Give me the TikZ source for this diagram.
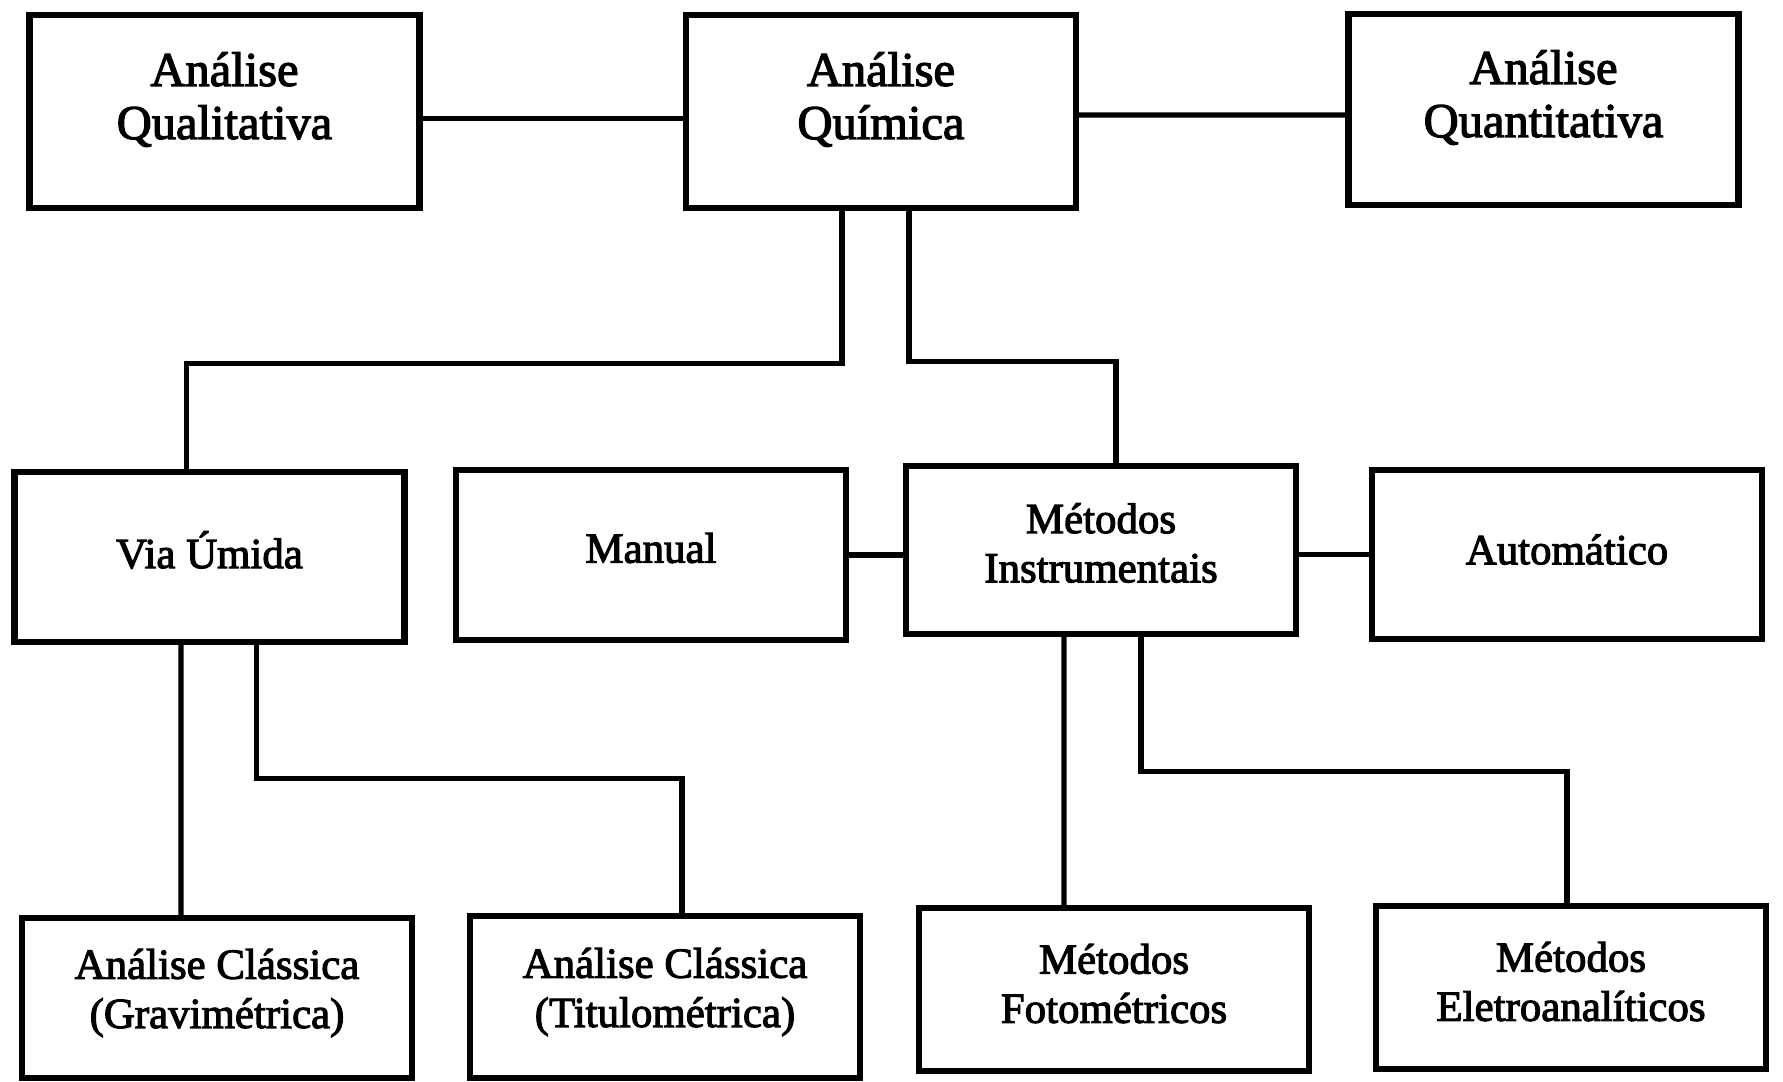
\documentclass[tikz,border=0pt]{standalone}
\usepackage{fontspec}
\setmainfont[FakeBold=2.5]{Liberation Serif}

\begin{document}
\begin{tikzpicture}[x=0.1mm, y=-0.1mm,
                caixa/.style={draw, line width=1.8pt, minimum width=39mm, inner sep=0pt},
                titulo/.style={align=center, font=\fontsize{13.8}{15.1}\selectfont},
                texto/.style={align=center, font=\fontsize{12.2}{14}\selectfont},
                liga/.style={line width=1.5pt}]
                \useasboundingbox (0,0) rectangle (1783,1081);
                \node[caixa, minimum height=19.3mm] (qual) at (224.5,111.5) {};
                \node[titulo] (qual-txt) at ([yshift=1.2mm]qual.center) {Análise\\Qualitativa};
                \node[caixa, minimum height=19.3mm] (quim) at (881,111.5) {};
                \node[titulo] (quim-txt) at ([yshift=1.2mm]quim.center) {Análise\\Química};
                \node[caixa, minimum height=19.1mm] (quant) at (1543.5,109.5) {};
                \node[titulo] (quant-txt) at ([yshift=1.2mm]quant.center) {Análise\\Quantitativa};
                \node[caixa, minimum height=17mm] (via) at (209.5,557) {};
                \node[texto] (via-txt) at ([yshift=0.7mm]via.center) {Via Úmida};
                \node[caixa, minimum height=17mm] (manual) at (651,555) {};
                \node[texto] (manual-txt) at ([yshift=0.7mm]manual.center) {Manual};
                \node[caixa, minimum height=16.8mm] (instr) at (1101,550) {};
                \node[texto] (instr-txt) at ([yshift=0.7mm]instr.center) {Métodos\\Instrumentais};
                \node[caixa, minimum height=16.9mm] (auto) at (1567,554.5) {};
                \node[texto] (auto-txt) at ([yshift=0.5mm]auto.center) {Automático};
                \node[caixa, minimum height=16mm] (grav) at (217,998) {};
                \node[texto] (grav-txt) at ([yshift=0.5mm]grav.center) {Análise Clássica\\(Gravimétrica)};
                \node[caixa, minimum height=16.2mm] (titu) at (665,997) {};
                \node[texto] (titu-txt) at ([yshift=0.5mm]titu.center) {Análise Clássica\\(Titulométrica)};
                \node[caixa, minimum height=16.3mm] (foto) at (1114,989.5) {};
                \node[texto] (foto-txt) at ([yshift=0.6mm]foto.center) {Métodos\\Fotométricos};
                \node[caixa, minimum height=16.3mm] (eletro) at (1571,987.5) {};
                \node[texto] (eletro-txt) at ([yshift=0.6mm]eletro.center) {Métodos\\Eletroanalíticos};
                \draw [liga] ([yshift=-0.7mm]qual.east) -- ([yshift=-0.7mm]quim.west);
                \draw [liga] ([yshift=-0.35mm]quim.east) -- ([yshift=-0.55mm]quant.west);
                \draw [liga] ([xshift=-3.9mm]quim.south) -- ++(0,152) -| ([xshift=-2.3mm]via.north);
                \draw [liga] ([xshift=2.8mm]quim.south) -- ++(0,150) -| ([xshift=1.5mm]instr.north);
                \draw [liga] (manual.east) -- (manual.east -| instr.west);
                \draw [liga] (auto.west -| instr.east) -- (auto.west);
                \draw [liga] ([xshift=-2.85mm]via.south) -- ([xshift=-3.6mm]grav.north);
                \draw [liga] ([xshift=4.7mm]via.south) -- ++(0,133) -| ([xshift=1.7mm]titu.north);
                \draw [liga] ([xshift=-3.7mm]instr.south) -- ([xshift=-5mm]foto.north);
                \draw [liga] ([xshift=4mm]instr.south) -- ++(0,134) -| ([xshift=-0.4mm]eletro.north);
            \end{tikzpicture}
\end{document}
